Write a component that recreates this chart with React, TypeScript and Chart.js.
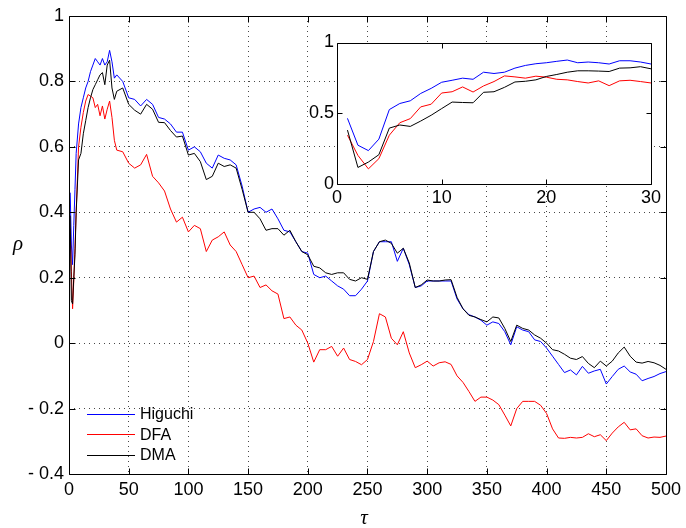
import React, { useEffect, useRef } from 'react';
import { Chart, registerables } from 'chart.js';

Chart.register(...registerables);

// ---------- main plot data ----------
const TAU = [
  1, 2, 3, 4, 5, 6, 8, 10, 12, 14, 16, 18, 20, 22, 24, 26, 28, 30, 32, 34, 36, 38,
  40, 45, 50, 55, 60, 65, 70, 75, 80, 85,
  90, 95, 100, 105, 110, 115, 120, 125, 130, 135,
  140, 145, 150, 155, 160, 165, 170, 175, 180, 185,
  190, 195, 200, 205, 210, 215, 220, 225, 230, 235,
  240, 245, 250, 255, 260, 265, 270, 275, 280, 285,
  290, 295, 300, 305, 310, 315, 320, 325, 330, 335,
  340, 345, 350, 355, 360, 365, 370, 375, 380, 385,
  390, 395, 400, 405, 410, 415, 420, 425, 430, 435,
  440, 445, 450, 455, 460, 465, 470, 475, 480, 485,
  490, 495, 500,
];

const HIGUCHI = [
  0.46, 0.30, 0.24, 0.36, 0.47, 0.58, 0.67, 0.72, 0.75, 0.78, 0.80, 0.83, 0.85, 0.87, 0.86, 0.85, 0.87, 0.85, 0.86, 0.895, 0.86, 0.81,
  0.82, 0.80, 0.75, 0.745, 0.725, 0.745, 0.73, 0.69, 0.685, 0.67,
  0.645, 0.645, 0.59, 0.60, 0.585, 0.55, 0.535, 0.575, 0.565, 0.56,
  0.545, 0.48, 0.40, 0.41, 0.415, 0.40, 0.41, 0.38, 0.345, 0.34,
  0.31, 0.28, 0.275, 0.21, 0.20, 0.205, 0.19, 0.175, 0.165, 0.145,
  0.145, 0.165, 0.19, 0.28, 0.31, 0.31, 0.31, 0.25, 0.29, 0.24,
  0.17, 0.175, 0.19, 0.19, 0.19, 0.19, 0.19, 0.135, 0.105, 0.087,
  0.08, 0.07, 0.055, 0.065, 0.06, 0.035, -0.005, 0.05, 0.04, 0.035,
  0.01, 0.005, -0.015, -0.04, -0.065, -0.09, -0.082, -0.097, -0.071, -0.092,
  -0.085, -0.08, -0.125, -0.102, -0.08, -0.07, -0.088, -0.095, -0.115, -0.108,
  -0.102, -0.093, -0.087,
];

const DFA = [
  0.35, 0.22, 0.105, 0.19, 0.29, 0.40, 0.60, 0.66, 0.705, 0.74, 0.76, 0.755, 0.75, 0.72, 0.73, 0.695, 0.725, 0.685, 0.715, 0.74, 0.69, 0.62,
  0.59, 0.585, 0.55, 0.535, 0.545, 0.577, 0.51, 0.49, 0.465, 0.41,
  0.37, 0.385, 0.34, 0.36, 0.35, 0.28, 0.315, 0.325, 0.34, 0.30,
  0.28, 0.24, 0.20, 0.205, 0.17, 0.178, 0.16, 0.15, 0.075, 0.08,
  0.055, 0.04, 0.0, -0.058, -0.02, -0.02, -0.01, -0.04, -0.015, -0.05,
  -0.056, -0.066, -0.05, 0.005, 0.09, 0.08, 0.015, -0.005, 0.035, -0.03,
  -0.075, -0.066, -0.055, -0.07, -0.06, -0.057, -0.065, -0.1, -0.12, -0.148,
  -0.178, -0.165, -0.165, -0.174, -0.188, -0.22, -0.253, -0.2, -0.178, -0.178,
  -0.178, -0.19, -0.215, -0.262, -0.29, -0.291, -0.288, -0.29, -0.288, -0.277,
  -0.286, -0.28, -0.298, -0.275, -0.256, -0.242, -0.265, -0.262, -0.283, -0.29,
  -0.287, -0.288, -0.284,
];

const DMA = [
  0.39, 0.13, 0.12, 0.20, 0.27, 0.40, 0.56, 0.58, 0.64, 0.68, 0.72, 0.75, 0.775, 0.79, 0.805, 0.82, 0.827, 0.79, 0.85, 0.865, 0.78, 0.745,
  0.77, 0.78, 0.73, 0.712, 0.70, 0.73, 0.715, 0.675, 0.674, 0.65,
  0.63, 0.633, 0.575, 0.58, 0.555, 0.50, 0.51, 0.55, 0.54, 0.545,
  0.535, 0.47, 0.40, 0.40, 0.38, 0.345, 0.35, 0.35, 0.33, 0.345,
  0.31, 0.28, 0.27, 0.235, 0.23, 0.215, 0.21, 0.215, 0.215, 0.195,
  0.19, 0.20, 0.195, 0.28, 0.31, 0.315, 0.305, 0.275, 0.29, 0.245,
  0.17, 0.178, 0.193, 0.19, 0.19, 0.193, 0.194, 0.14, 0.105, 0.085,
  0.08, 0.072, 0.065, 0.08, 0.077, 0.045, 0.005, 0.055, 0.045, 0.04,
  0.025, 0.015, 0.0, -0.02, -0.024, -0.034, -0.046, -0.05, -0.041, -0.062,
  -0.075, -0.055, -0.07, -0.055, -0.03, -0.012, -0.04, -0.058, -0.061, -0.056,
  -0.06, -0.068, -0.08,
];

// ---------- inset data ----------
const INSET_TAU = [1, 2, 3, 4, 5, 6, 7, 8, 9, 10, 11, 12, 13, 14, 15, 16, 17, 18, 19, 20, 21, 22, 23, 24, 25, 26, 27, 28, 29, 30];
const INSET_HIGUCHI = [0.464, 0.274, 0.236, 0.317, 0.526, 0.569, 0.588, 0.64, 0.676, 0.719, 0.733, 0.748, 0.74, 0.79, 0.781, 0.79, 0.819, 0.838, 0.85, 0.857, 0.867, 0.876, 0.857, 0.862, 0.857, 0.848, 0.871, 0.871, 0.862, 0.848];
const INSET_DFA = [0.345, 0.202, 0.107, 0.179, 0.345, 0.433, 0.462, 0.545, 0.564, 0.643, 0.652, 0.686, 0.65, 0.693, 0.724, 0.764, 0.757, 0.748, 0.762, 0.755, 0.74, 0.736, 0.724, 0.714, 0.729, 0.695, 0.729, 0.733, 0.724, 0.714];
const INSET_DMA = [0.381, 0.117, 0.155, 0.207, 0.395, 0.417, 0.407, 0.445, 0.486, 0.533, 0.579, 0.576, 0.574, 0.648, 0.652, 0.683, 0.721, 0.726, 0.736, 0.76, 0.774, 0.79, 0.8, 0.8, 0.798, 0.795, 0.819, 0.821, 0.829, 0.814];

const SERIES_NAMES = ['Higuchi', 'DFA', 'DMA'];
const SERIES_COLORS = ['#0000ff', '#ff0000', '#000000'];

const FONT = '"Liberation Sans", Arial, Helvetica, sans-serif';

const toPoints = (xs: number[], ys: number[]) => ys.map((y, i) => ({ x: xs[i], y }));

const boxPlugin = {
  id: 'box',
  beforeDraw(chart: any, _args: any, opts: any) {
    if (!opts.fill) return;
    const { left, top, width, height } = chart.chartArea;
    const ctx = chart.ctx;
    ctx.save();
    ctx.fillStyle = '#ffffff';
    ctx.fillRect(left, top, width, height);
    ctx.restore();
  },
  afterDraw(chart: any, _args: any, opts: any) {
    const ctx = chart.ctx;
    const { left, right, top, bottom } = chart.chartArea;
    const L = opts.len || 5;
    const l = Math.round(left) + 0.5;
    const r = Math.round(right) + 0.5;
    const t = Math.round(top) + 0.5;
    const b = Math.round(bottom) + 0.5;
    ctx.save();
    ctx.strokeStyle = '#000';
    ctx.lineWidth = 1;
    ctx.beginPath();
    ctx.rect(l, t, r - l, b - t);
    const xs = chart.scales.x;
    xs.ticks.forEach((tk: any) => {
      const p = Math.round(xs.getPixelForValue(tk.value)) + 0.5;
      ctx.moveTo(p, b);
      ctx.lineTo(p, b - L);
      ctx.moveTo(p, t);
      ctx.lineTo(p, t + L);
    });
    const ys = chart.scales.y;
    ys.ticks.forEach((tk: any) => {
      const p = Math.round(ys.getPixelForValue(tk.value)) + 0.5;
      ctx.moveTo(l, p);
      ctx.lineTo(l + L, p);
      ctx.moveTo(r, p);
      ctx.lineTo(r - L, p);
    });
    ctx.stroke();

    if (opts.legend) {
      ctx.font = '16px ' + FONT;
      ctx.textBaseline = 'middle';
      ctx.textAlign = 'left';
      SERIES_NAMES.forEach((name, i) => {
        const y = 414 + i * 20.3;
        ctx.strokeStyle = SERIES_COLORS[i];
        ctx.beginPath();
        ctx.moveTo(87, Math.round(y) + 0.5);
        ctx.lineTo(135, Math.round(y) + 0.5);
        ctx.stroke();
        ctx.fillStyle = '#000';
        ctx.fillText(name, 140, y + 1);
      });
      ctx.font = 'italic 21px "Liberation Serif", "Times New Roman", serif';
      ctx.textAlign = 'center';
      ctx.fillText('\u03C4', 364, 518);
      ctx.fillText('\u03C1', 18, 244);
    }
    ctx.restore();
  },
};

const mainGridColor = (min: number, max: number) => (c: any) => {
  const v = c.tick ? c.tick.value : null;
  if (v === null) return 'transparent';
  if (Math.abs(v - min) < 1e-6 || Math.abs(v - max) < 1e-6) return 'transparent';
  return 'rgba(40,40,40,0.85)';
};

export default function App() {
  const mainRef = useRef<HTMLCanvasElement | null>(null);
  const insetRef = useRef<HTMLCanvasElement | null>(null);

  useEffect(() => {
    if (!mainRef.current || !insetRef.current) return;
    const mainData = [HIGUCHI, DFA, DMA];
    const main = new Chart(mainRef.current, {
      type: 'line',
      data: {
        datasets: SERIES_NAMES.map((name, i) => ({
          label: name,
          data: toPoints(TAU, mainData[i]),
          borderColor: SERIES_COLORS[i],
          borderWidth: 1,
          pointRadius: 0,
          tension: 0,
          fill: false,
          order: 3 - i,
        })),
      },
      options: {
        responsive: false,
        animation: false,
        devicePixelRatio: 1,
        layout: { padding: { left: 0, right: 16, top: 16, bottom: 0 } },
        plugins: {
          legend: { display: false },
          tooltip: { enabled: false },
          box: { fill: false, len: 6, legend: true },
        } as any,
        scales: {
          x: {
            type: 'linear',
            min: 0,
            max: 500,
            afterFit: (s: any) => { s.height = 54; },
            ticks: {
              stepSize: 50,
              autoSkip: false,
              maxRotation: 0,
              padding: 5,
              color: '#000',
              font: { family: FONT, size: 18 },
            },
            grid: { drawTicks: false, color: mainGridColor(0, 500), lineWidth: 1 },
            border: { display: false, dash: [1, 4] },
          },
          y: {
            type: 'linear',
            min: -0.4,
            max: 1,
            afterFit: (s: any) => { s.width = 69; },
            ticks: {
              stepSize: 0.2,
              autoSkip: false,
              padding: 5,
              color: '#000',
              font: { family: FONT, size: 18 },
              callback: (v: any) => {
                const r = Math.round(Number(v) * 10) / 10;
                if (r < 0) return '- ' + (-r).toFixed(1);
                if (r === 0) return '0';
                if (r === 1) return '1';
                return r.toFixed(1);
              },
            },
            grid: { drawTicks: false, color: mainGridColor(-0.4, 1), lineWidth: 1 },
            border: { display: false, dash: [1, 4] },
          },
        },
      },
      plugins: [boxPlugin],
    } as any);

    const insetData = [INSET_HIGUCHI, INSET_DFA, INSET_DMA];
    const inset = new Chart(insetRef.current, {
      type: 'line',
      data: {
        datasets: SERIES_NAMES.map((name, i) => ({
          label: name,
          data: toPoints(INSET_TAU, insetData[i]),
          borderColor: SERIES_COLORS[i],
          borderWidth: 1,
          pointRadius: 0,
          tension: 0,
          fill: false,
          order: 3 - i,
        })),
      },
      options: {
        responsive: false,
        animation: false,
        devicePixelRatio: 1,
        layout: { padding: { left: 0, right: 19, top: 17.5, bottom: 11 } },
        plugins: {
          legend: { display: false },
          tooltip: { enabled: false },
          box: { fill: true, len: 5, legend: false },
        } as any,
        scales: {
          x: {
            type: 'linear',
            min: 0,
            max: 30,
            afterFit: (s: any) => { s.height = 30; },
            ticks: {
              stepSize: 10,
              autoSkip: false,
              maxRotation: 0,
              padding: 3,
              color: '#000',
              font: { family: FONT, size: 18 },
            },
            grid: { display: false, drawTicks: false },
            border: { display: false },
          },
          y: {
            type: 'linear',
            min: 0,
            max: 1,
            afterFit: (s: any) => { s.width = 47; },
            ticks: {
              stepSize: 0.5,
              autoSkip: false,
              padding: 3,
              color: '#000',
              font: { family: FONT, size: 18 },
              callback: (v: any) => String(Math.round(Number(v) * 10) / 10),
            },
            grid: { display: false, drawTicks: false },
            border: { display: false },
          },
        },
      },
      plugins: [boxPlugin],
    } as any);

    return () => {
      main.destroy();
      inset.destroy();
    };
  }, []);

  return (
    <div style={{ position: 'fixed', left: 0, top: 0, width: 686, height: 528, background: '#ffffff' }}>
      <canvas ref={mainRef} width={686} height={528} style={{ position: 'absolute', left: 0, top: 0 }} />
      <canvas ref={insetRef} width={380} height={200} style={{ position: 'absolute', left: 290, top: 25 }} />
    </div>
  );
}
